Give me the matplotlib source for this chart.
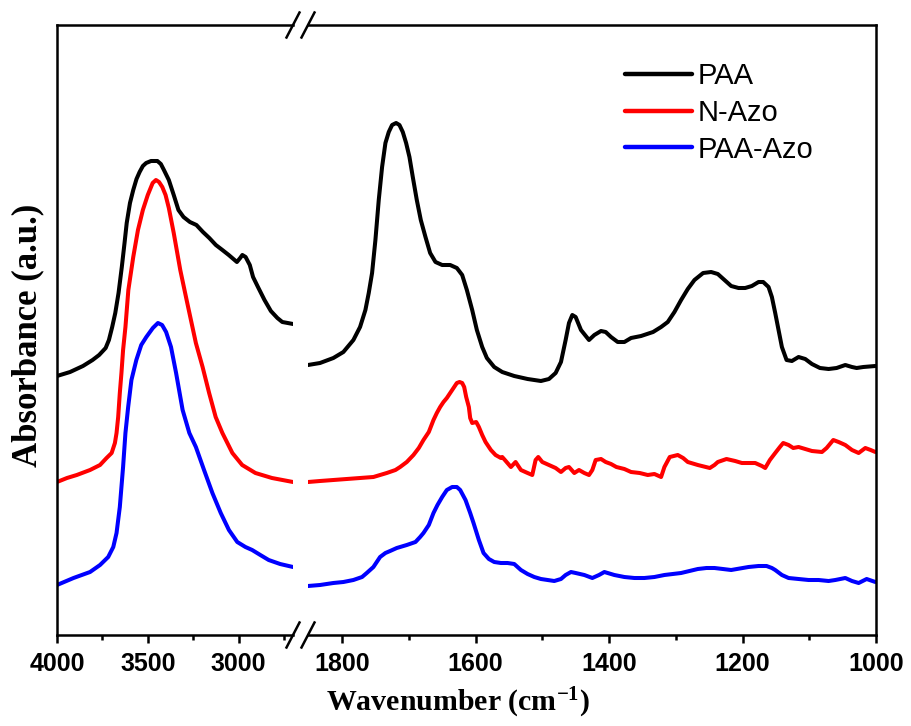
import matplotlib
matplotlib.use("Agg")
import matplotlib.pyplot as plt
from matplotlib.lines import Line2D
from matplotlib.ticker import MultipleLocator

plt.rcParams["mathtext.default"] = "regular"

# high wavenumber part (4000 - 2700 cm-1)
wn_paa_hi = [4000, 3928, 3857, 3804, 3768, 3732, 3714, 3696, 3679, 3661, 3643, 3628,
             3616, 3598, 3580, 3562, 3545, 3527, 3509, 3482, 3465, 3447, 3428, 3411,
             3384, 3357, 3331, 3303, 3268, 3232, 3196, 3161, 3125, 3089, 3054, 3009,
             2991, 2979, 2961, 2938, 2920, 2893, 2857, 2822, 2786, 2759, 2729, 2700]
paa_hi = [2.59, 2.63, 2.69, 2.75, 2.80, 2.87, 2.95, 3.08, 3.22, 3.42, 3.68, 3.92,
          4.12, 4.32, 4.45, 4.56, 4.63, 4.69, 4.72, 4.74, 4.74, 4.74, 4.71, 4.65,
          4.55, 4.40, 4.25, 4.18, 4.13, 4.10, 4.03, 3.97, 3.90, 3.85, 3.80, 3.73,
          3.77, 3.80, 3.78, 3.70, 3.58, 3.48, 3.35, 3.24, 3.17, 3.13, 3.12, 3.11]

wn_nazo_hi = [4000, 3945, 3891, 3818, 3763, 3727, 3699, 3681, 3672, 3663, 3654, 3645,
              3636, 3623, 3607, 3580, 3554, 3527, 3500, 3473, 3455, 3438, 3420, 3402,
              3384, 3357, 3321, 3286, 3235, 3198, 3162, 3126, 3089, 3034, 2980, 2907,
              2816, 2700]
nazo_hi = [1.53, 1.57, 1.60, 1.65, 1.70, 1.77, 1.82, 1.92, 2.02, 2.18, 2.42, 2.62,
           2.85, 3.08, 3.45, 3.78, 4.05, 4.25, 4.40, 4.52, 4.55, 4.53, 4.48, 4.40,
           4.27, 4.02, 3.65, 3.35, 2.92, 2.68, 2.42, 2.18, 2.02, 1.82, 1.70, 1.62,
           1.57, 1.53]

wn_paaazo_hi = [4000, 3909, 3818, 3763, 3718, 3690, 3672, 3654, 3636, 3623, 3608, 3590,
                3563, 3536, 3508, 3472, 3444, 3421, 3399, 3372, 3344, 3308, 3271, 3235,
                3190, 3144, 3098, 3053, 3007, 2962, 2925, 2880, 2834, 2771, 2700]
paaazo_hi = [0.50, 0.57, 0.63, 0.70, 0.78, 0.88, 1.02, 1.28, 1.68, 2.02, 2.28, 2.55,
             2.75, 2.90, 2.98, 3.07, 3.12, 3.10, 3.03, 2.88, 2.62, 2.25, 2.02, 1.88,
             1.65, 1.42, 1.22, 1.05, 0.93, 0.88, 0.85, 0.80, 0.75, 0.71, 0.68]

# fingerprint part (1850 - 1000 cm-1)
wn_paa_lo = [1851, 1833, 1813, 1798, 1783, 1773, 1765, 1760, 1755, 1750, 1745, 1740,
             1735, 1730, 1725, 1719, 1714, 1709, 1704, 1699, 1694, 1688, 1682, 1675,
             1668, 1660, 1650, 1638, 1628, 1620, 1613, 1605, 1598, 1590, 1583, 1572,
             1560, 1542, 1522, 1502, 1490, 1480, 1472, 1465, 1460, 1455, 1450, 1442,
             1436, 1430, 1422, 1412, 1405, 1397, 1387, 1377, 1367, 1352, 1334, 1322,
             1312, 1302, 1292, 1282, 1272, 1259, 1247, 1237, 1227, 1217, 1206, 1196,
             1186, 1176, 1169, 1161, 1156, 1151, 1146, 1141, 1134, 1126, 1116, 1106,
             1096, 1084, 1071, 1059, 1046, 1036, 1029, 1019, 1001]
paa_lo = [2.70, 2.72, 2.77, 2.83, 2.95, 3.08, 3.25, 3.42, 3.62, 3.95, 4.35, 4.68,
          4.92, 5.03, 5.10, 5.12, 5.10, 5.03, 4.92, 4.78, 4.58, 4.35, 4.15, 3.98,
          3.82, 3.73, 3.70, 3.70, 3.67, 3.60, 3.45, 3.25, 3.05, 2.88, 2.77, 2.68,
          2.63, 2.59, 2.56, 2.54, 2.56, 2.62, 2.73, 2.95, 3.12, 3.20, 3.18, 3.05,
          3.00, 2.95, 3.00, 3.04, 3.03, 2.98, 2.93, 2.93, 2.97, 2.99, 3.03, 3.08,
          3.13, 3.23, 3.35, 3.46, 3.55, 3.62, 3.63, 3.61, 3.55, 3.49, 3.47, 3.47,
          3.49, 3.53, 3.53, 3.48, 3.38, 3.22, 3.05, 2.88, 2.75, 2.74, 2.78, 2.76,
          2.71, 2.67, 2.66, 2.67, 2.70, 2.68, 2.67, 2.68, 2.69]

wn_nazo_lo = [1851, 1833, 1813, 1793, 1773, 1753, 1733, 1720, 1713, 1703, 1693, 1685,
              1678, 1670, 1663, 1658, 1653, 1648, 1643, 1638, 1633, 1628, 1624, 1620,
              1617, 1614, 1610, 1608, 1605, 1599, 1595, 1590, 1585, 1577, 1570, 1562,
              1560, 1556, 1547, 1540, 1532, 1522, 1515, 1510, 1506, 1500, 1490, 1480,
              1472, 1465, 1460, 1452, 1445, 1437, 1430, 1425, 1420, 1412, 1405, 1397,
              1389, 1377, 1367, 1354, 1342, 1332, 1322, 1317, 1309, 1297, 1289, 1282,
              1267, 1249, 1242, 1237, 1224, 1211, 1201, 1181, 1171, 1166, 1159, 1151,
              1144, 1139, 1131, 1124, 1116, 1106, 1096, 1081, 1074, 1064, 1056, 1046,
              1036, 1026, 1016, 1008, 1001]
nazo_lo = [1.53, 1.54, 1.55, 1.56, 1.57, 1.58, 1.62, 1.65, 1.68, 1.73, 1.80, 1.87,
           1.95, 2.03, 2.15, 2.22, 2.28, 2.33, 2.37, 2.42, 2.47, 2.52, 2.53, 2.52,
           2.48, 2.38, 2.28, 2.17, 2.12, 2.13, 2.08, 2.00, 1.93, 1.85, 1.80, 1.77,
           1.78, 1.75, 1.68, 1.73, 1.65, 1.62, 1.60, 1.75, 1.78, 1.73, 1.70, 1.67,
           1.63, 1.67, 1.68, 1.62, 1.65, 1.62, 1.60, 1.65, 1.75, 1.76, 1.73, 1.71,
           1.68, 1.66, 1.63, 1.62, 1.60, 1.61, 1.58, 1.68, 1.78, 1.80, 1.77, 1.73,
           1.70, 1.67, 1.70, 1.73, 1.76, 1.74, 1.72, 1.72, 1.69, 1.67, 1.75, 1.82,
           1.88, 1.92, 1.90, 1.87, 1.88, 1.86, 1.84, 1.83, 1.87, 1.95, 1.93, 1.90,
           1.85, 1.82, 1.87, 1.85, 1.83]

wn_paaazo_lo = [1851, 1833, 1813, 1798, 1783, 1770, 1763, 1753, 1743, 1735, 1728, 1718,
                1713, 1703, 1690, 1683, 1678, 1670, 1663, 1657, 1650, 1643, 1635, 1628,
                1623, 1615, 1608, 1603, 1595, 1588, 1580, 1572, 1562, 1552, 1542, 1532,
                1522, 1512, 1502, 1492, 1482, 1472, 1465, 1457, 1450, 1437, 1425, 1415,
                1407, 1392, 1377, 1362, 1347, 1332, 1317, 1292, 1267, 1254, 1242, 1217,
                1191, 1176, 1164, 1156, 1151, 1141, 1131, 1116, 1101, 1086, 1071, 1061,
                1046, 1036, 1026, 1014, 1001]
paaazo_lo = [0.49, 0.50, 0.52, 0.53, 0.55, 0.58, 0.62, 0.68, 0.78, 0.82, 0.84, 0.87,
             0.88, 0.90, 0.93, 0.98, 1.02, 1.10, 1.22, 1.30, 1.38, 1.45, 1.48, 1.48,
             1.45, 1.35, 1.22, 1.12, 0.95, 0.82, 0.76, 0.73, 0.72, 0.72, 0.71, 0.65,
             0.61, 0.58, 0.56, 0.55, 0.54, 0.56, 0.60, 0.63, 0.62, 0.60, 0.57, 0.60,
             0.63, 0.60, 0.58, 0.57, 0.57, 0.58, 0.60, 0.62, 0.66, 0.67, 0.67, 0.65,
             0.68, 0.69, 0.69, 0.67, 0.65, 0.60, 0.57, 0.56, 0.55, 0.55, 0.54, 0.55,
             0.57, 0.54, 0.52, 0.56, 0.53]

labels = ["PAA", "N-Azo", "PAA-Azo"]
colors = ["#000000", "#ff0000", "#0000ff"]

W, H = 912, 726
fig = plt.figure(figsize=(W / 100, H / 100), dpi=100)

# axes in pixels: left panel 57..293, right panel 308..876, y 25..635
x0, x1, x2, x3 = 57, 293, 308, 876
ytop, ybot = 25, 635
ax1 = fig.add_axes([x0 / W, 1 - ybot / H, (x1 - x0) / W, (ybot - ytop) / H])
ax2 = fig.add_axes([x2 / W, 1 - ybot / H, (x3 - x2) / W, (ybot - ytop) / H])

lw = 2.9
hi = [(wn_paa_hi, paa_hi), (wn_nazo_hi, nazo_hi), (wn_paaazo_hi, paaazo_hi)]
lo = [(wn_paa_lo, paa_lo), (wn_nazo_lo, nazo_lo), (wn_paaazo_lo, paaazo_lo)]
for (xs, ys), c in zip(hi, colors):
    ax1.plot(xs, ys, color=c, lw=lw, solid_joinstyle="round", solid_capstyle="round")
for (xs, ys), c, lab in zip(lo, colors, labels):
    ax2.plot(xs, ys, color=c, lw=lw, label=lab, solid_joinstyle="round",
             solid_capstyle="round")

ax1.set_xlim(4000, 2700)
ax2.set_xlim(1851, 1000)
for ax in (ax1, ax2):
    ax.set_ylim(0, 6.1)
    ax.set_yticks([])
    for s in ax.spines.values():
        s.set_linewidth(1.8)
    ax.tick_params(axis="x", which="major", direction="out", length=6, width=1.8,
                   pad=6.5, top=False)
    ax.tick_params(axis="x", which="minor", direction="out", length=3.5, width=1.8,
                   top=False)

ax1.spines["right"].set_visible(False)
ax2.spines["left"].set_visible(False)
ax1.xaxis.set_minor_locator(MultipleLocator(250))
ax2.xaxis.set_minor_locator(MultipleLocator(100))
ax1.set_xticks([4000, 3500, 3000])
ax2.set_xticks([1800, 1600, 1400, 1200, 1000])

for ax in (ax1, ax2):
    for t in ax.get_xticklabels():
        t.set_fontfamily("Liberation Sans")
        t.set_fontweight("bold")
        t.set_fontsize(18)

# break marks
for xb in (x1, x2):
    for yb in (ytop, ybot):
        fig.add_artist(Line2D([(xb - 6.5) / W, (xb + 6.5) / W],
                              [1 - (yb + 12.5) / H, 1 - (yb - 12.5) / H],
                              transform=fig.transFigure, color="black", lw=1.8))

fig.text(458 / W, 1 - 703 / H, "Wavenumber (cm$^{-1}$)", ha="center", va="center",
         family="Liberation Serif", weight="bold", size=21.5)
fig.text(28 / W, 1 - 335 / H, "Absorbance (a.u.)", ha="center", va="center",
         rotation=90, family="Liberation Serif", weight="bold", size=25)

leg = ax2.legend(loc="upper left", bbox_to_anchor=(625 / W, 1 - 62 / H),
                 bbox_transform=fig.transFigure, frameon=False, borderpad=0,
                 borderaxespad=0, handlelength=2.3, handletextpad=0.2,
                 labelspacing=0.3,
                 prop=dict(family="Liberation Sans", size=21))
for l in leg.get_lines():
    l.set_linewidth(3.2)

fig.savefig("out.png", dpi=100)
